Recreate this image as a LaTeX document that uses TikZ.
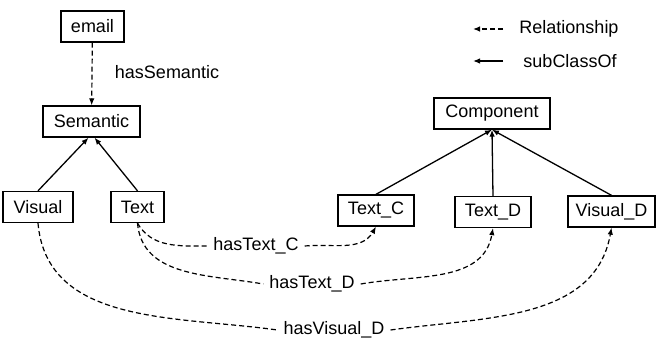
\documentclass[tikz,border=0pt]{standalone}
\usepackage{fontspec}
\setmainfont{Liberation Sans}
\usetikzlibrary{arrows.meta}
\begin{document}
\begin{tikzpicture}[x=1pt,y=-1pt,
 box/.style={draw,line width=1.3pt,minimum height=31pt,inner sep=0pt,font=\fontsize{18}{20}\selectfont},
 lbl/.style={inner sep=1pt,font=\fontsize{18}{20}\selectfont},
 mid/.style={lbl,inner xsep=6pt},
 rel/.style={line width=1.2pt,dash pattern=on 5pt off 3pt,-{Latex[length=7pt,width=5.5pt]}},
 relplain/.style={line width=1.2pt,dash pattern=on 5pt off 3pt},
 sub/.style={line width=1.3pt,-{Latex[length=7pt,width=5.5pt]}}]
\useasboundingbox (0,0) rectangle (657,342);
\node[box,minimum width=63pt] (email) at (92.5,26.5) {email};
\node[box,minimum width=97pt] (sem) at (91.5,121.5) {Semantic};
\node[box,minimum width=70pt] (vis) at (38,207) {Visual};
\node[box,minimum width=53pt] (txt) at (137.5,207) {Text};
\node[box,minimum width=116pt] (comp) at (492,113.5) {Component};
\node[box,minimum width=76pt] (tc) at (376,210.5) {Text\_C};
\node[box,minimum width=76pt] (td) at (493,212) {Text\_D};
\node[box,minimum width=87pt] (vd) at (611.5,211.5) {Visual\_D};
\node[lbl] (lsem) at (167,72) {hasSemantic};
\node[mid] (ltc) at (256,246) {hasText\_C};
\node[mid] (ltd) at (312,284) {hasText\_D};
\node[mid] (lvd) at (334,330) {hasVisual\_D};
\node[lbl] (lrel) at (569,29) {Relationship};
\node[lbl] (lsub) at (570,61) {subClassOf};
\coordinate (r1) at (503,29); \coordinate (r2) at (473,29);
\coordinate (s1) at (503,61); \coordinate (s2) at (473,61);
\draw[rel] (r1) -- (r2);
\draw[sub] (s1) -- (s2);
\draw[rel] (email) -- (sem);
\draw[sub] (vis.north) -- ([xshift=-3pt]sem.south);
\draw[sub] (txt.north) -- ([xshift=3pt]sem.south);
\draw[sub] (tc.north) -- (comp.south);
\draw[sub] (td.north) -- (comp.south);
\draw[sub] (vd.north) -- (comp.south);
\draw[relplain] (txt.south) to[out=-60,in=180] (ltc.west);
\draw[rel] (ltc.east) to[out=5,in=-120] (tc.south);
\draw[relplain] (txt.south) to[out=-85,in=170] (ltd.west);
\draw[rel] (ltd.east) to[out=10,in=-100] (td.south);
\draw[relplain] (vis.south) to[out=-85,in=172] (lvd.west);
\draw[rel] (lvd.east) to[out=8,in=-100] (vd.south);
\end{tikzpicture}
\end{document}
